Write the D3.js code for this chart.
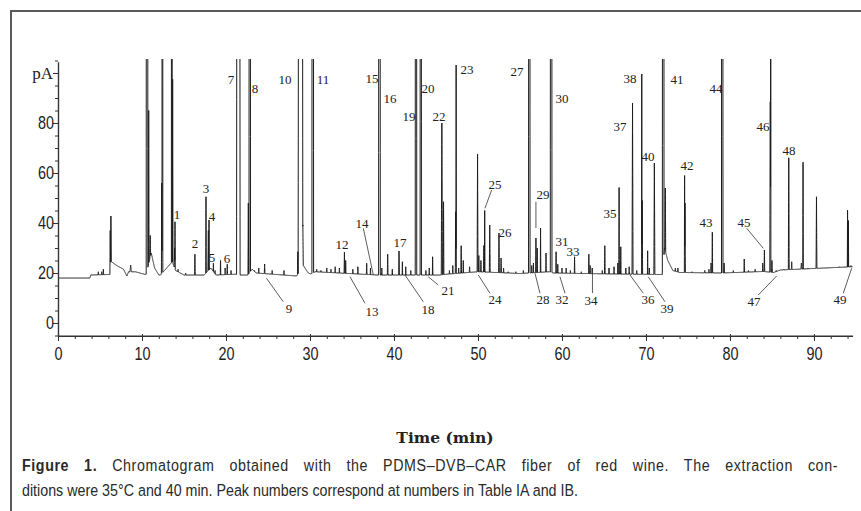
<!DOCTYPE html>
<html>
<head>
<meta charset="utf-8">
<script src="https://cdn.jsdelivr.net/npm/d3@7"></script>
<style>
body { margin: 0; background: #fff; }
svg { display: block; }
.axis path, .axis line { stroke: #333; }
.tick text { fill: #222; }
</style>
</head>
<body>
<div id="chart"></div>
<script>
// baseline of the trace, [time (min), signal (pA)]
var baseline = [[0,18],[3.8,18],[3.9,19.2],[6.2,19.4],[6.35,24.5],[7.0,23],[7.8,21.5],[8.2,18.8],[8.4,20.5],
    [9.2,20.5],[10.3,19.5],[10.5,19.5],[11.1,28],[11.5,22],[12.0,19.2],[12.2,19.2],[13.6,24.5],[14.0,21],
    [15.0,19.2],[17.4,19.2],[18.2,22],[18.8,19.2],[21.1,19.5],[21.7,19.2],[22.6,19.2],[23.1,21.5],[23.6,20],
    [28.4,18.8],[29.2,23],[29.8,20],[30.1,19.6],[30.6,20.5],[38.0,19.2],[42.4,19.2],[45.5,19.2],[46.2,19.5],
    [50,20.5],[55,19.8],[58.5,20.5],[59,20],[66,19.6],[72,19.4],[72.2,30],[72.6,25],[73.2,21],[74,20.2],
    [79,20],[84,20.6],[85.2,20.2],[86.0,21.2],[94.6,22.5]];

// peaks: [retention time (min), apex (pA), half width (min)]; 1000 = off scale
var peaks = [[4.8,20.5,.03],[5.2,20.5,.03],[5.4,21.5,.03],[6.22,37,.04],[6.3,42.8,.05],[7.6,21.5,.04],[8.65,23.2,.08],
    [10.6,1000,.1],[10.8,85,.04],[10.98,35,.05],[12.35,56,.04],[12.43,1000,.05],[13.55,1000,.05],[13.65,97.5,.04],
    [13.88,30,.04],[13.93,40.5,.03],[14.3,21.5,.03],[15.2,20,.03],[16.3,27.5,.03],
    [17.62,50.5,.03],[17.9,37,.05],[17.98,41.2,.03],[18.5,23.9,.03],[18.7,21,.03],
    [19.35,25,.03],[19.9,22,.03],[20.15,23.5,.04],[20.6,21,.03],[21.47,1000,.21],
    [22.66,48,.04],[22.83,1000,.09],[23.4,21,.03],[23.9,22,.03],[24.6,23.6,.04],[25.5,21,.03],[26.9,21,.03],
    [28.55,28.5,.04],[28.87,1000,.28],[29.15,39.2,.05],[30.33,1000,.1],
    [30.8,21.5,.03],[31.3,21,.03],[32.0,22,.03],[32.5,21.5,.03],[33.0,22.5,.04],[33.5,22,.03],
    [34.1,28.3,.04],[34.25,25,.03],[35.1,21.5,.03],[35.7,22.5,.03],[36.75,23.9,.04],[37.2,22,.03],
    [38.27,1000,.1],[38.55,22,.03],[39.25,27.5,.04],[39.8,21.5,.03],
    [40.6,28.8,.04],[41.0,24.5,.03],[41.4,22.5,.03],[42.0,21,.03],[42.62,1000,.09],[43.19,1000,.08],
    [43.8,21,.03],[44.2,22,.03],[44.6,26.5,.03],[45.7,80,.07],[45.9,48.5,.04],
    [46.6,21,.03],[47.0,23,.03],[47.35,44.5,.05],[47.4,103.2,.02],[47.7,22,.03],[48.0,30.9,.04],[48.25,25,.03],[49.0,22.5,.04],
    [49.95,67.5,.05],[50.1,27,.04],[50.35,25,.03],[50.7,31,.04],[50.8,45,.03],[51.4,39.2,.05],
    [52.5,36,.04],[52.75,26,.04],[53.05,22,.03],[53.6,20.5,.03],[54.5,20.5,.03],[55.4,21,.03],
    [56.11,1000,.09],[56.4,23,.03],[56.6,24,.03],[56.9,34,.03],[57.05,30,.03],[57.45,38,.03],[58.1,28,.03],
    [58.71,1000,.1],[59.3,28.5,.03],[59.5,23.5,.03],[60.0,22,.03],[60.5,22,.03],[61.0,21,.03],[61.5,26.5,.03],
    [62.3,20.5,.03],[63.2,27.5,.03],[63.35,23,.03],[63.6,22,.03],[64.8,21,.03],[65.1,30.9,.04],[65.6,22,.03],[66.2,22.5,.03],
    [66.65,24,.03],[66.8,54.2,.03],[67.0,30.5,.03],[67.6,22,.03],[68.0,22.5,.03],[68.4,88,.06],[68.9,21,.03],
    [69.5,99.6,.02],[69.55,49,.05],[70.2,28.9,.03],[70.4,22,.03],[71.0,64,.06],[72.05,1000,.1],[72.3,54,.05],
    [73.5,22,.03],[73.8,22,.03],[74.6,59,.03],[74.65,48,.04],[75.5,20.5,.03],[77.0,21,.03],[77.5,21.5,.03],
    [77.75,24,.04],[77.9,36.3,.04],[79.08,1000,.09],[79.3,24,.05],
    [80.4,21,.03],[81.7,25.6,.03],[82.2,21,.03],[83.0,21.5,.03],[83.9,24,.03],[84.1,29.2,.04],
    [84.8,88.5,.06],[84.85,1000,.02],[85.0,25,.05],[85.5,21,.03],[86.4,21.5,.03],
    [87.0,66.1,.05],[87.35,24.5,.04],[88.5,24,.05],[88.7,64.3,.03],[89.3,22,.03],[90.3,50.5,.05],
    [91.5,22,.03],[92.3,22,.03],[93.0,22.5,.03],[94.0,45.2,.03],[94.1,41,.03],[94.4,23,.03]];

// peak numbers: [text, time, pA] (label centre)
var peakLabels = [["1",14.13,43.6],["2",16.31,32.0],["3",17.62,53.9],["4",18.3,42.8],["5",18.37,26.2],["6",20.08,25.8],
    ["7",20.62,97.6],["8",23.45,93.9],["9",27.5,5.9],["10",27.02,97.6],["11",31.58,97.6],["12",33.77,31.4],
    ["13",37.35,4.5],["14",36.15,40.0],["15",37.35,97.7],["16",39.52,89.9],["17",40.71,32.2],["18",44.08,5.6],
    ["19",41.76,82.5],["20",44.08,93.9],["21",46.39,13.0],["22",45.32,82.5],["23",48.65,101.6],["24",52.02,9.4],
    ["25",52.08,55.3],["26",53.21,36.1],["27",54.7,100.5],["28",57.77,9.3],["29",57.77,51.6],["30",59.96,89.9],
    ["31",59.96,32.7],["32",59.96,9.4],["33",61.35,28.7],["34",63.45,9.2],["35",65.71,43.9],["36",70.27,9.4],
    ["37",66.9,78.5],["38",68.1,97.9],["39",72.5,5.9],["40",70.27,66.8],["41",73.71,97.6],["42",74.85,63.2],
    ["43",77.12,40.1],["44",78.31,93.9],["45",81.7,40.1],["46",83.96,78.5],["47",82.88,8.5],["48",87.06,69.2],
    ["49",93.1,9.4]];

// leader lines: [t1, pA1, t2, pA2]
var leaders = [[24.82,17.9,26.82,8.5],[34.76,18.5,36.55,7.9],[36.35,37.9,37.54,19.2],[41.31,19.2,43.49,8.5],
    [44.08,18.5,45.27,15.2],[50.04,19.2,51.43,11.9],[50.83,45.9,51.63,53.2],[56.79,19.9,57.38,11.9],
    [56.9,48.5,56.9,38],[59.76,18.5,60.36,11.9],[63.63,22,63.63,12],[68.1,19.2,69.68,11.9],
    [70.27,18.5,72.26,8.5],[81.99,37.9,83.96,29.9],[83.37,11.2,85.56,18.8],[93.49,11.9,94.49,21.9]];

var xTicks = [0,10,20,30,40,50,60,70,80,90];
var xMinor = d3.range(0, 95, 2);
var yTicks = [0,20,40,60,80,100];
var yTickLabels = ["0","20","40","60","80","pA"];
var yMinor = d3.range(-5, 106, 5);

var captionBold = "Figure 1.";
var captionLine1 = " Chromatogram obtained with the PDMS\u2013DVB\u2013CAR fiber of red wine. The extraction con-";
var captionLine2 = "ditions were 35\u00b0C and 40 min. Peak numbers correspond at numbers in Table IA and IB.";

var W = 861, H = 511;
var sans = "'Liberation Sans', Arial, sans-serif";
var squeeze = 0.8;   // condensed look for the axis digits

var svg = d3.select("#chart").append("svg").attr("width", W).attr("height", H);

svg.append("rect").attr("x", 11).attr("y", 11).attr("width", 880).attr("height", 530)
    .attr("fill", "none").attr("stroke", "#5a5a5a").attr("stroke-width", 2);

var x = d3.scaleLinear().domain([0, 94.6]).range([58, 852.6]);
var y = d3.scaleLinear().domain([-5.2, 104.4]).range([336, 62]);

// trace = highest of baseline and peak triangles
var baseAt = function(t) {
    for (var i = 1; i < baseline.length; i++) {
        if (t <= baseline[i][0]) {
            var a = baseline[i-1], b = baseline[i];
            return a[1] + (b[1] - a[1]) * (t - a[0]) / (b[0] - a[0]);
        }
    }
    return baseline[baseline.length-1][1];
};
var times = d3.range(0, 94.6, 0.005);
peaks.forEach(function(p) { times.push(p[0], p[0] - p[2], p[0] + p[2]); });
times.push(94.6);
times.sort(d3.ascending);
var trace = times.map(function(t) {
    var v = baseAt(t);
    peaks.forEach(function(p) {
        var d = Math.abs(t - p[0]);
        if (d < p[2]) {
            var b = baseAt(p[0]);
            var pv = p[1] - (p[1] - b) * d / p[2];
            if (pv > v) v = pv;
        }
    });
    return [t, v];
});

svg.append("clipPath").attr("id", "plotclip").append("rect")
    .attr("x", 56).attr("y", 59).attr("width", 800).attr("height", 280);

svg.append("path").datum(trace)
    .attr("clip-path", "url(#plotclip)")
    .attr("fill", "none").attr("stroke", "#1c1c1c").attr("stroke-width", 1)
    .attr("d", d3.line().x(function(d) { return x(d[0]); }).y(function(d) { return y(d[1]); }));

// axes
svg.append("g").attr("class", "axis").attr("transform", "translate(58,0)")
    .call(d3.axisLeft(y).tickValues(yMinor).tickSize(3).tickSizeOuter(0).tickFormat(""));
var yAx = svg.append("g").attr("class", "axis").attr("transform", "translate(58,0)")
    .call(d3.axisLeft(y).tickValues(yTicks).tickSize(5).tickSizeOuter(0)
        .tickFormat(function(d, i) { return yTickLabels[i]; }));
yAx.selectAll(".tick text").attr("x", -5)
    .style("font-family", function(d) { return d == 100 ? "'Liberation Serif', serif" : sans; })
    .style("font-size", function(d) { return d == 100 ? "17px" : "18px"; })
    .attr("transform", function(d) { return d == 100 ? null : "scale(" + squeeze + ",1)"; });

svg.append("g").attr("class", "axis").attr("transform", "translate(0,336)")
    .call(d3.axisBottom(x).tickValues(xMinor).tickSize(3).tickSizeOuter(0).tickFormat(""));
var xAx = svg.append("g").attr("class", "axis").attr("transform", "translate(0,336)")
    .call(d3.axisBottom(x).tickValues(xTicks).tickSize(5).tickSizeOuter(0));
xAx.select(".domain").attr("d", "M58,0H853");
xAx.selectAll(".tick line").attr("y1", -2);
xAx.selectAll(".tick text").attr("y", 24).attr("dy", 0)
    .style("font-family", sans).style("font-size", "18px")
    .attr("transform", "scale(" + squeeze + ",1)");
svg.selectAll(".axis .domain").attr("stroke-width", 1.2);

// peak numbers and leader lines
svg.selectAll(".leader").data(leaders).enter().append("line").attr("class", "leader")
    .attr("x1", function(d) { return x(d[0]); }).attr("y1", function(d) { return y(d[1]); })
    .attr("x2", function(d) { return x(d[2]); }).attr("y2", function(d) { return y(d[3]); })
    .attr("stroke", "#333").attr("stroke-width", 0.8);

svg.selectAll(".plabel").data(peakLabels).enter().append("text").attr("class", "plabel")
    .attr("x", function(d) { return Math.round(x(d[1])); }).attr("y", function(d) { return Math.round(y(d[2]) + 4.5); })
    .attr("text-anchor", "middle")
    .style("font-family", "'Liberation Serif', serif").style("font-size", "13px").style("fill", "#222")
    .text(function(d) { return d[0]; });

svg.append("text").attr("x", 445).attr("y", 443).attr("text-anchor", "middle")
    .style("font-family", "'DejaVu Serif', serif").style("font-weight", "bold").style("font-size", "15.5px")
    .style("fill", "#222").text("Time (min)");

// caption, condensed by a horizontal squeeze; first line justified (light tracking + word spacing)
var capScale = 0.84;
var track = 0.7;
var cap1 = svg.append("text").attr("transform", "translate(22,471) scale(" + capScale + ",1)")
    .style("font-family", sans).style("font-size", "17px").style("fill", "#2a2a2a")
    .style("letter-spacing", track + "px");
cap1.append("tspan").style("font-weight", "bold").text(captionBold);
cap1.append("tspan").text(captionLine1);
var natural = cap1.node().getComputedTextLength();
var gaps = (captionBold + captionLine1).split(" ").length - 1;
cap1.style("word-spacing", Math.max(0, (816 / capScale - natural) / gaps) + "px");
svg.append("text").attr("transform", "translate(22,496) scale(" + capScale + ",1)")
    .style("font-family", sans).style("font-size", "17px").style("fill", "#2a2a2a")
    .text(captionLine2);
</script>
</body>
</html>
